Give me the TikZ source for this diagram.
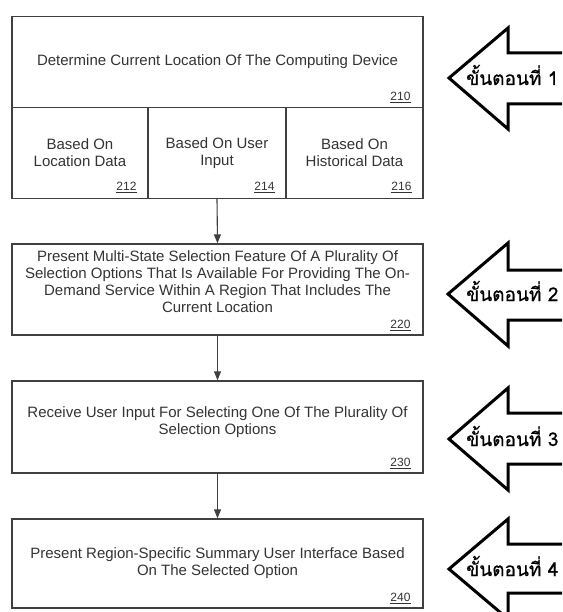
\documentclass[tikz,border=0pt]{standalone}
\usepackage{fontspec}
\setmainfont{Liberation Sans}
\newfontfamily\thaifont[Script=Thai, FakeBold=0.6]{Loma}
\usetikzlibrary{arrows.meta,calc}
\definecolor{boxline}{HTML}{404040}
\definecolor{boxtext}{HTML}{333333}
\begin{document}
\begin{tikzpicture}[x=1pt, y=-1pt,
    boxstyle/.style={rectangle, draw=boxline, line width=1.4pt, text=boxtext, align=center, inner sep=0pt,
        font=\fontsize{15}{17}\selectfont},
    numstyle/.style={text=boxtext, inner sep=0pt, font=\fontsize{12}{14}\selectfont},
    arrowstyle/.style={-{Triangle[length=9pt,width=7pt]}, line width=1.1pt, draw=boxline},
    blockarrow/.style={draw=black, fill=white, line width=3pt, line join=miter},
    thailabel/.style={inner sep=0pt, font=\thaifont\fontsize{19}{22}\selectfont}
]
    \useasboundingbox (0,0) rectangle (562,612);
    \clip (0,0) rectangle (562,612);

    % flow boxes
    \node[boxstyle, minimum width=411pt, minimum height=91pt] (step210) at (217.5,62) {Determine Current Location Of The Computing Device};
    \node[boxstyle, minimum width=136pt, minimum height=91pt] (step212) at (80,153) {Based On\\Location Data};
    \node[boxstyle, minimum width=138pt, minimum height=91pt] (step214) at (217,153) {Based On User\\Input};
    \node[boxstyle, minimum width=137pt, minimum height=91pt] (step216) at (354.5,153) {Based On\\Historical Data};
    \node[boxstyle, minimum width=411pt, minimum height=91pt] (step220) at (217.5,289.5) {Present Multi-State Selection Feature Of A Plurality Of\\Selection Options That Is Available For Providing The On-\\Demand Service Within A Region That Includes The\\Current Location\\[-2pt]};
    \node[boxstyle, minimum width=411pt, minimum height=92pt] (step230) at (217.5,427) {Receive User Input For Selecting One Of The Plurality Of\\Selection Options\\[-4pt]};
    \node[boxstyle, minimum width=411pt, minimum height=89pt] (step240) at (217.5,563.5) {Present Region-Specific Summary User Interface Based\\On The Selected Option};

    % reference numbers
    \node[numstyle, anchor=south east] (num210) at ($(step210.south east)+(-13,-5)$) {\underline{210}};
    \node[numstyle, anchor=south east] (num212) at ($(step212.south east)+(-12,-6)$) {\underline{212}};
    \node[numstyle, anchor=south east] (num214) at ($(step214.south east)+(-12,-6)$) {\underline{214}};
    \node[numstyle, anchor=south east] (num216) at ($(step216.south east)+(-12,-6)$) {\underline{216}};
    \node[numstyle, anchor=south east] (num220) at ($(step220.south east)+(-13,-5)$) {\underline{220}};
    \node[numstyle, anchor=south east] (num230) at ($(step230.south east)+(-13,-5)$) {\underline{230}};
    \node[numstyle, anchor=south east] (num240) at ($(step240.south east)+(-13,-5)$) {\underline{240}};

    \draw[arrowstyle] (step214.south) -- (step220.north);
    \draw[arrowstyle] (step220.south) -- (step230.north);
    \draw[arrowstyle] (step230.south) -- (step240.north);

    % step arrows on the right
    \draw[blockarrow] (449,78) -- ++(59,-50) -- ++(0,25) -- ++(80,0) -- ++(0,51) -- ++(-80,0) -- ++(0,25) -- cycle;
    \draw[blockarrow] (448,294) -- ++(60,-51) -- ++(0,27) -- ++(80,0) -- ++(0,50) -- ++(-80,0) -- ++(0,26) -- cycle;
    \draw[blockarrow] (449,439) -- ++(59,-51) -- ++(0,25) -- ++(80,0) -- ++(0,51) -- ++(-80,0) -- ++(0,26) -- cycle;
    \draw[blockarrow] (449,569) -- ++(59,-50) -- ++(0,25) -- ++(80,0) -- ++(0,49) -- ++(-80,0) -- ++(0,26) -- cycle;

    \node[thailabel, anchor=base west] (label1) at (466,85) {ขั้นตอนที่ 1};
    \node[thailabel, anchor=base west] (label2) at (466,301) {ขั้นตอนที่ 2};
    \node[thailabel, anchor=base west] (label3) at (466,446) {ขั้นตอนที่ 3};
    \node[thailabel, anchor=base west] (label4) at (466,576) {ขั้นตอนที่ 4};
\end{tikzpicture}
\end{document}
